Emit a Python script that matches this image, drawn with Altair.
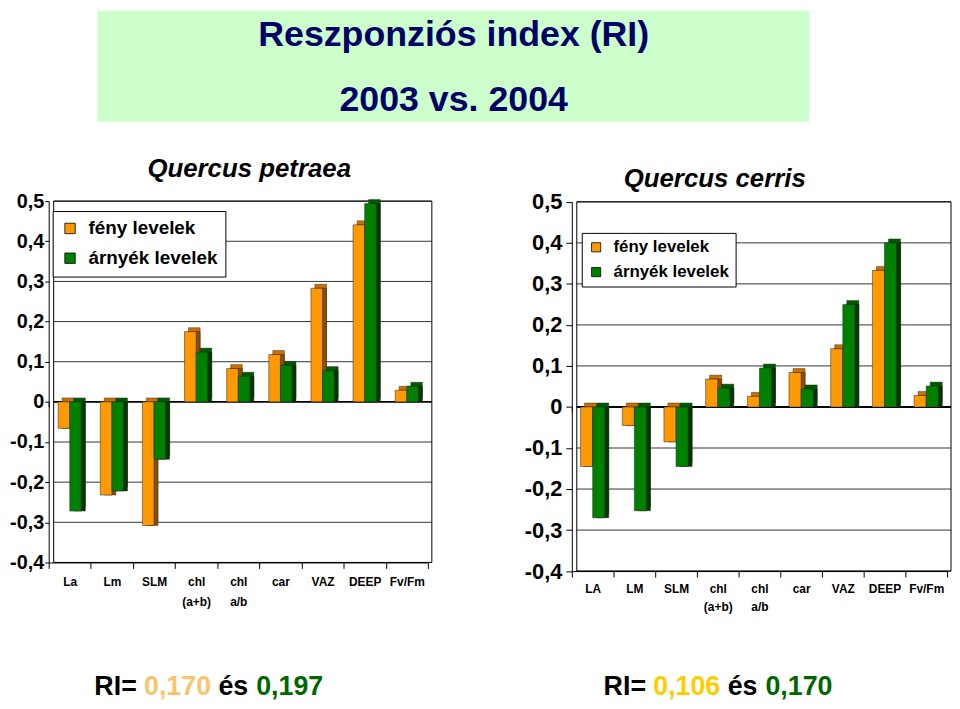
import altair as alt
import pandas as pd

# ---------------- data ----------------
series = ["fény levelek", "árnyék levelek"]

cats_petraea = ["La", "Lm", "SLM", "chl|(a+b)", "chl|a/b", "car", "VAZ", "DEEP", "Fv/Fm"]
feny_petraea = [-0.066, -0.232, -0.308, 0.175, 0.083, 0.118, 0.283, 0.441, 0.029]
arnyek_petraea = [-0.272, -0.222, -0.143, 0.124, 0.064, 0.091, 0.078, 0.494, 0.039]

cats_cerris = ["LA", "LM", "SLM", "chl|(a+b)", "chl|a/b", "car", "VAZ", "DEEP", "Fv/Fm"]
feny_cerris = [-0.145, -0.045, -0.085, 0.068, 0.026, 0.084, 0.142, 0.333, 0.028]
arnyek_cerris = [-0.270, -0.253, -0.145, 0.046, 0.095, 0.044, 0.250, 0.400, 0.051]

y_ticks = [-0.4, -0.3, -0.2, -0.1, 0.0, 0.1, 0.2, 0.3, 0.4, 0.5]
ri_petraea = ["0,170", "0,197"]
ri_cerris = ["0,106", "0,170"]

# ---------------- style ----------------
FONT = "Liberation Sans"
W, H = 951, 693
ORANGE, GREEN = "#ff9900", "#008000"
TOP = {series[0]: "#c87000", series[1]: "#005a00"}
SIDE = {series[0]: "#8a4e00", series[1]: "#003600"}
NAVY = "#000066"

YLABEL = ("datum.value == 0 ? '0' : (datum.value < 0 ? '-' : '') + "
          "replace(format(abs(datum.value), '.1f'), '.', ',')")

one = pd.DataFrame({"k": [0]})


def txt(text, x, y, size, color="black", style="normal", align="center"):
    return alt.Chart(one).mark_text(
        text=text, font=FONT, fontSize=size, fontWeight="bold", fontStyle=style,
        color=color, align=align, baseline="alphabetic",
    ).encode(x=alt.value(x), y=alt.value(y))


def panel(cats, feny, arnyek, xr, yr, bar_w, frame, y_lbl, y_tick, y_pad,
          x_pad, line_h, legend):
    n = len(cats)
    df = pd.DataFrame({
        "cat": cats * 2,
        "series": [series[0]] * n + [series[1]] * n,
        "value": feny + arnyek,
    })
    xs = alt.Scale(domain=cats, range=xr, paddingInner=0, paddingOuter=0)
    ys = alt.Scale(domain=[-0.4, 0.5], range=yr, nice=False, zero=False)
    cs = alt.Scale(domain=series, range=[ORANGE, GREEN])
    fx0, fx1, fy0, fy1 = frame
    y_zero = yr[0] + (yr[1] - yr[0]) * 0.4 / 0.9

    main_x_axis = alt.Axis(
        orient="bottom", offset=yr[0] - H, tickBand="extent",
        labelExpr="split(datum.label, '|')", labelAngle=0, title=None,
        grid=False, domainColor="black", tickColor="black", tickSize=6,
        labelFont=FONT, labelFontSize=12, labelFontWeight="bold",
        labelColor="black", labelPadding=x_pad, labelLineHeight=line_h,
        labelBaseline="top",
    )
    zero_axis = alt.Axis(
        orient="bottom", offset=y_zero - H, tickBand="extent", labels=False,
        domain=False, title=None, grid=False, tickColor="black", tickSize=5,
    )
    y_axis = alt.Axis(
        orient="left", offset=-xr[0], values=y_ticks, labelExpr=YLABEL,
        grid=False, title=None, tickSize=y_tick, labelPadding=y_pad,
        labelFont=FONT, labelFontSize=y_lbl, labelFontWeight="bold",
        labelColor="black", domainColor="black", tickColor="black",
        labelBaseline="middle",
    )

    frame_l = alt.Chart(one).mark_rect(fill="white", stroke="black", strokeWidth=1).encode(
        x=alt.value(fx0), x2=alt.value(fx1), y=alt.value(fy0), y2=alt.value(fy1))
    grid_l = alt.Chart(pd.DataFrame({"v": y_ticks})).mark_rule(color="black").encode(
        y=alt.Y("v:Q", scale=ys, axis=y_axis),
        x=alt.value(fx0), x2=alt.value(fx1),
        strokeWidth=alt.condition(alt.datum.v == 0, alt.value(2), alt.value(0.8)))

    layers = [frame_l, grid_l]
    base = alt.Chart(df)
    for i, s in enumerate(series):
        sdf = base.transform_filter(alt.datum.series == s)
        xo = (-1 if i == 0 else 1) * bar_w / 2
        top = sdf.mark_bar(width=bar_w, xOffset=xo + 4, yOffset=-4, y2Offset=-4,
                           color=TOP[s], stroke="#222222", strokeWidth=0.4).encode(
            x=alt.X("cat:N", scale=xs, sort=cats, axis=zero_axis if i == 0 else None),
            y=alt.Y("value:Q", scale=ys, axis=y_axis),
            y2=alt.datum(0))
        side = sdf.mark_bar(width=bar_w, xOffset=xo + 4, color=SIDE[s],
                            stroke="#222222", strokeWidth=0.4).encode(
            x=alt.X("cat:N", scale=xs, sort=cats, axis=None),
            y=alt.Y("value:Q", scale=ys, axis=y_axis),
            y2=alt.datum(0))
        front = sdf.mark_bar(width=bar_w, xOffset=xo, stroke="#222222",
                             strokeWidth=0.5).encode(
            x=alt.X("cat:N", scale=xs, sort=cats, axis=main_x_axis if i == 0 else None),
            y=alt.Y("value:Q", scale=ys, axis=y_axis),
            y2=alt.datum(0),
            color=alt.Color("series:N", scale=cs, sort=series, legend=legend))
        layers += [top, side, front]
    return alt.layer(*layers).resolve_axis(x="independent")


def make_legend(lx, ly, size, sym, pad, rowpad):
    return alt.Legend(
        title=None, orient="none", legendX=lx, legendY=ly, fillColor="white",
        strokeColor="black", padding=pad, symbolType="square", symbolSize=sym,
        symbolStrokeColor="black", symbolStrokeWidth=0.8, symbolOpacity=1,
        labelFont=FONT, labelFontSize=size, labelFontWeight="bold",
        labelColor="black", labelOffset=9, rowPadding=rowpad, labelLimit=0,
    )


left = panel(cats_petraea, feny_petraea, arnyek_petraea,
             xr=[41, 423], yr=[556, 192], bar_w=11.7,
             frame=(46, 427, 192, 556), y_lbl=20, y_tick=4, y_pad=1,
             x_pad=8, line_h=20,
             legend=make_legend(45, 202, 19, 110, 8, 10))

right = panel(cats_cerris, feny_cerris, arnyek_cerris,
              xr=[568, 946], yr=[564.7, 192.7], bar_w=12.2,
              frame=(573, 950, 192.7, 564.7), y_lbl=22, y_tick=6, y_pad=4,
              x_pad=6.3, line_h=18,
              legend=make_legend(578, 224, 17, 85, 6, 7))

box = alt.Chart(one).mark_rect(color="#ccffcc").encode(
    x=alt.value(90), x2=alt.value(807), y=alt.value(0), y2=alt.value(112))

texts = [
    txt("Reszponziós index (RI)", 449, 36, 36, color=NAVY),
    txt("2003 vs. 2004", 449, 101, 36, color=NAVY),
    txt("Quercus petraea", 243, 168, 26, style="italic"),
    txt("Quercus cerris", 712, 178, 26, style="italic"),
    txt("RI=", 87, 690, 27, align="left"),
    txt(ri_petraea[0], 137, 690, 27, color="#f8c46e", align="left"),
    txt("és", 212, 690, 27, align="left"),
    txt(ri_petraea[1], 250, 690, 27, color="#006600", align="left"),
    txt("RI=", 600, 690, 27, align="left"),
    txt(ri_cerris[0], 650, 690, 27, color="#ffcc00", align="left"),
    txt("és", 725, 690, 27, align="left"),
    txt(ri_cerris[1], 763, 690, 27, color="#006600", align="left"),
]

chart = alt.layer(box, left, right, *texts).resolve_scale(
    x="independent", y="independent", color="independent"
).properties(
    width=W, height=H, padding=0, background="white",
    autosize=alt.AutoSizeParams(type="none"),
).configure_view(stroke="transparent")

chart.save("out.html", embed_options={"renderer": "svg", "actions": False})
